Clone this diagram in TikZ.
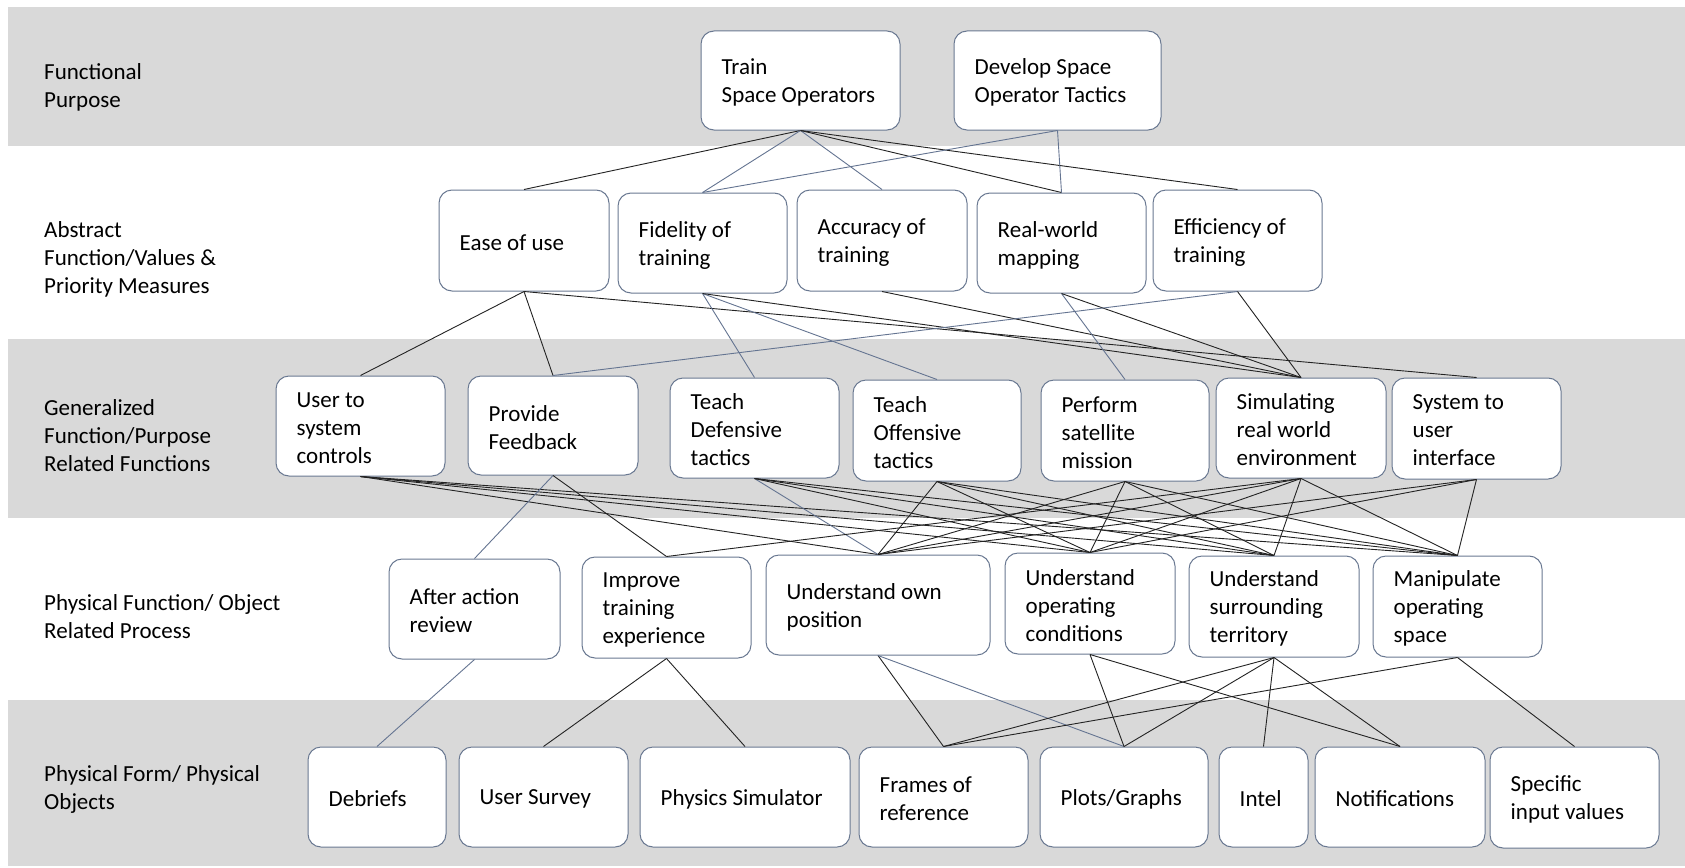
\documentclass[tikz,border=0pt]{standalone}
\usepackage{fontspec}
\setmainfont{Carlito}
\definecolor{bandc}{RGB}{217,217,217}
\definecolor{boxc}{RGB}{105,120,145}
\definecolor{lnk}{RGB}{35,35,35}
\definecolor{lnb}{RGB}{100,116,145}
\newcommand\bx[6]{%
  \node[boxst, minimum width={(#4)-(#2)}, minimum height={(#5)-(#3)}] (#1) at ({((#2)+(#4))/2},{((#3)+(#5))/2}) {};
  \node[txt] (#1-t) at ([xshift=21pt,yshift=-2pt]#1.west) {#6};}
\begin{document}
\begin{tikzpicture}[x=1pt,y=-1pt,
  boxst/.style={draw=boxc, line width=1pt, rounded corners=13pt, fill=white, inner sep=0pt},
  txt/.style={font=\fontsize{23}{28}\selectfont, align=left, inner sep=0pt, anchor=west, text=black},
  lab/.style={font=\fontsize{23}{28}\selectfont, align=left, inner sep=0pt, anchor=west, text=black},
  bk/.style={draw=lnk, line width=0.9pt},
  bl/.style={draw=lnb, line width=0.9pt}]
\useasboundingbox (0,0) rectangle (1685,867);
\fill[white] (0,0) rectangle (1685,867);
\fill[bandc] (8,7) rectangle (1685,146);
\fill[bandc] (8,339) rectangle (1685,518);
\fill[bandc] (8,700) rectangle (1685,866);
% band labels
\node[lab] (L1) at (44,87) {Functional\\Purpose};
\node[lab] (L2) at (44,259) {Abstract\\Function/Values \&\\Priority Measures};
\node[lab] (L3) at (44,436) {Generalized\\Function/Purpose\\Related Functions};
\node[lab] (L4) at (44,617) {Physical Function/ Object\\Related Process};
\node[lab] (L5) at (44,789) {Physical Form/ Physical\\Objects};
% row 1
\bx{T1}{701}{31}{900}{130}{Train\\Space Operators}
\bx{T2}{954}{31}{1161}{130}{Develop Space\\Operator Tactics}
% row 2
\bx{A1}{439}{190}{609}{291}{Ease of use}
\bx{A2}{618}{193}{787}{293}{Fidelity of\\training}
\bx{A3}{797}{190}{967}{291}{Accuracy of\\training}
\bx{A4}{977}{193}{1146}{293}{Real-world\\mapping}
\bx{A5}{1153}{190}{1322}{291}{Efficiency of\\training}
% row 3
\bx{G1}{276}{376}{445}{476}{User to\\system\\controls}
\bx{G2}{468}{376}{638}{475}{Provide\\Feedback}
\bx{G3}{670}{378}{839}{478}{Teach\\Defensive\\tactics}
\bx{G4}{853}{380}{1021}{481}{Teach\\Offensive\\tactics}
\bx{G5}{1041}{380}{1209}{481}{Perform\\satellite\\mission}
\bx{G6}{1216}{378}{1386}{478}{Simulating\\real world\\environment}
\bx{G7}{1392}{378}{1561}{479}{System to\\user\\interface}
% row 4
\bx{P1}{389}{559}{560}{659}{After action\\review}
\bx{P2}{582}{557}{751}{658}{Improve\\training\\experience}
\bx{P3}{766}{555}{990}{655}{Understand own\\position}
\bx{P4}{1005}{553}{1175}{654}{Understand\\operating\\conditions}
\bx{P5}{1189}{556}{1359}{657}{Understand\\surrounding\\territory}
\bx{P6}{1373}{556}{1542}{657}{Manipulate\\operating\\space}
% row 5
\bx{F1}{308}{747}{446}{847}{Debriefs}
\bx{F2}{459}{747}{628}{847}{User Survey}
\bx{F3}{640}{747}{850}{847}{Physics Simulator}
\bx{F4}{859}{747}{1028}{847}{Frames of\\reference}
\bx{F5}{1040}{747}{1208}{847}{Plots/Graphs}
\bx{F6}{1219}{747}{1308}{847}{Intel}
\bx{F7}{1315}{747}{1485}{847}{Notifications}
\bx{F8}{1490}{747}{1659}{848}{Specific\\input values}
% row 1 -> row 2
\draw[bk] (T1.south) -- (A1.north);
\draw[bl] (T1.south) -- (A2.north);
\draw[bl] (T1.south) -- (A3.north);
\draw[bk] (T1.south) -- (A4.north);
\draw[bk] (T1.south) -- (A5.north);
\draw[bl] (T2.south) -- (A2.north);
\draw[bl] (T2.south) -- (A4.north);
% row 2 -> row 3
\draw[bk] (A1.south) -- (G1.north);
\draw[bk] (A1.south) -- (G2.north);
\draw[bk] (A1.south) -- (G7.north);
\draw[bl] (A2.south) -- (G3.north);
\draw[bl] (A2.south) -- (G4.north);
\draw[bk] (A2.south) -- (G6.north);
\draw[bk] (A3.south) -- (G6.north);
\draw[bl] (A4.south) -- (G5.north);
\draw[bk] (A4.south) -- (G6.north);
\draw[bl] (A5.south) -- (G2.north);
\draw[bk] (A5.south) -- (G6.north);
% row 3 -> row 4
\foreach \t in {P3,P4,P5,P6} \draw[bk] (G1.south) -- (\t.north);
\draw[bl] (G2.south) -- (P1.north);
\draw[bk] (G2.south) -- (P2.north);
\draw[bl] (G3.south) -- (P3.north);
\foreach \t in {P4,P5,P6} \draw[bk] (G3.south) -- (\t.north);
\foreach \t in {P3,P4,P5,P6} \draw[bk] (G4.south) -- (\t.north);
\foreach \t in {P3,P4,P5,P6} \draw[bk] (G5.south) -- (\t.north);
\foreach \t in {P2,P3,P4,P5,P6} \draw[bk] (G6.south) -- (\t.north);
\foreach \t in {P3,P4,P6} \draw[bk] (G7.south) -- (\t.north);
% row 4 -> row 5
\draw[bl] (P1.south) -- (F1.north);
\draw[bk] (P2.south) -- (F2.north);
\draw[bk] (P2.south) -- (F3.north);
\draw[bk] (P3.south) -- (F4.north);
\draw[bl] (P3.south) -- (F5.north);
\draw[bk] (P4.south) -- (F5.north);
\draw[bk] (P4.south) -- (F7.north);
\foreach \t in {F4,F5,F6,F7} \draw[bk] (P5.south) -- (\t.north);
\draw[bk] (P6.south) -- (F4.north);
\draw[bk] (P6.south) -- (F8.north);
\end{tikzpicture}
\end{document}
